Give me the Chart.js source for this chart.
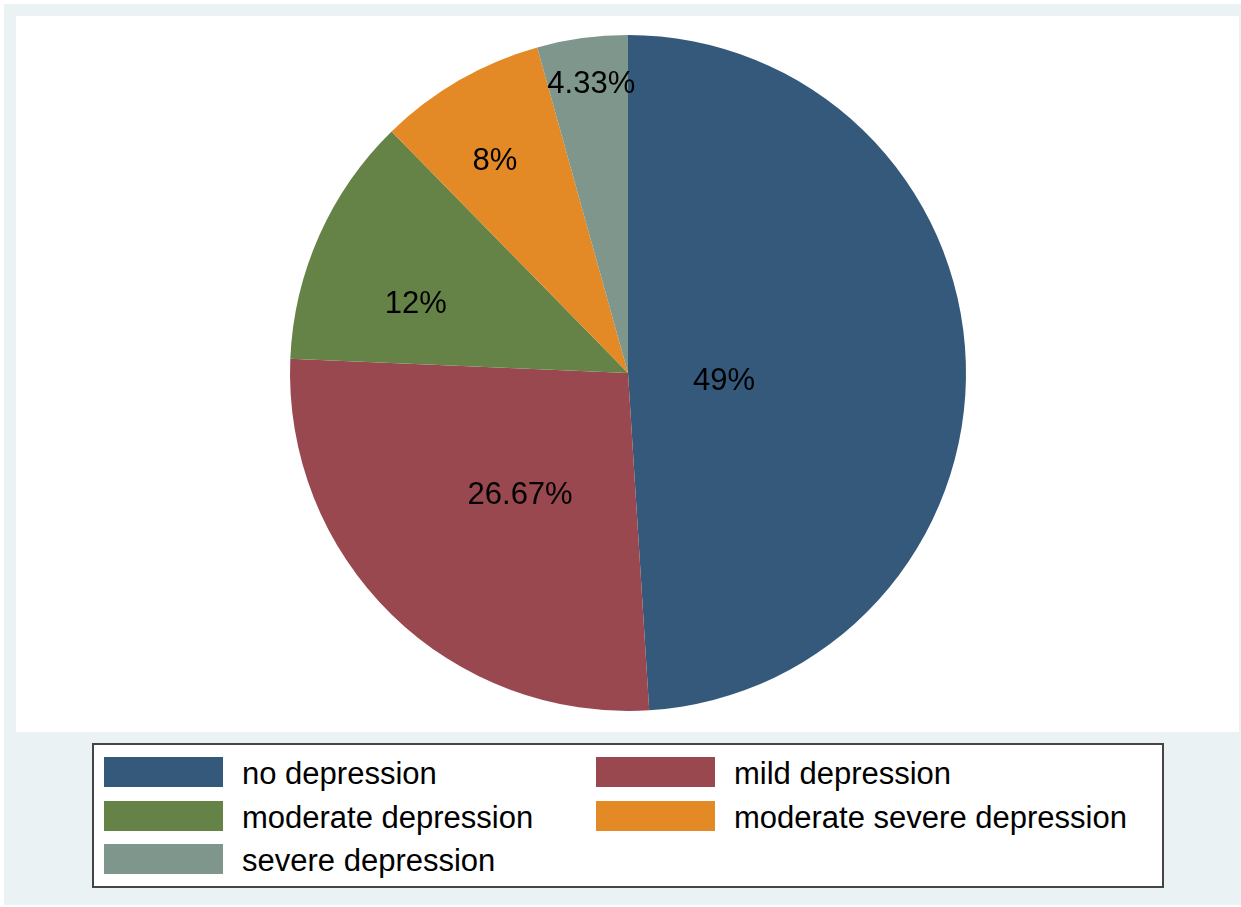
<!DOCTYPE html>
<html>
<head>
<meta charset="utf-8">
<title>Depression severity</title>
<script src="https://cdn.jsdelivr.net/npm/chart.js@4.4.1/dist/chart.umd.min.js"></script>
<style>
  html, body { margin: 0; padding: 0; background: #ffffff; }
  body { width: 1241px; height: 907px; position: relative; overflow: hidden;
         font-family: "Liberation Sans", Arial, Helvetica, sans-serif; }
  #frame { position: absolute; left: 4px; top: 4px; width: 1237px; height: 901px; background: #EAF2F3; }
  #plot  { position: absolute; left: 16px; top: 16px; width: 1223px; height: 716px; background: #ffffff; }
  #chart { position: absolute; left: 0; top: 0; }
  #legend { position: absolute; left: 92px; top: 743px; width: 1068px; height: 141px;
            background: #ffffff; border: 2px solid #454545; }
  .item { position: absolute; height: 30px; }
  .swatch { position: absolute; left: 0; top: 0; width: 119px; height: 30px; }
  .text { position: absolute; left: 138px; top: 2px; font-size: 31px; color: #000;
          white-space: nowrap; line-height: 30px; }
</style>
</head>
<body>
<div id="frame"></div>
<div id="plot"></div>
<canvas id="chart" width="1241" height="907"></canvas>
<div id="legend"></div>
<script>
// Share of respondents in each depression category (percent)
const categories = ['no depression', 'mild depression', 'moderate depression',
                    'moderate severe depression', 'severe depression'];
const percentages = [49, 26.67, 12, 8, 4.33];

// Slice fills
const sliceColors = ['#35597B', '#9A4850', '#658347', '#E38925', '#7E968C'];

// Where each percentage label sits inside its slice:
// fraction of the radius, and a small turn (degrees) off the slice's mid-angle
const labelRadius = [0.285, 0.477, 0.662, 0.746, 0.868];
const labelTurn = [5.4, -2.4, -5.5, -1.9, 0.6];

const sliceLabels = {
  id: 'sliceLabels',
  afterDatasetsDraw(chart) {
    const ctx = chart.ctx;
    const meta = chart.getDatasetMeta(0);
    const size = 31;
    ctx.save();
    ctx.font = size + 'px "Liberation Sans", Arial, sans-serif';
    ctx.fillStyle = '#000000';
    ctx.textAlign = 'center';
    ctx.textBaseline = 'alphabetic';
    meta.data.forEach((arc, i) => {
      const p = arc.getProps(['x', 'y', 'startAngle', 'endAngle', 'outerRadius'], true);
      const mid = (p.startAngle + p.endAngle) / 2 + labelTurn[i] * Math.PI / 180;
      const r = p.outerRadius * labelRadius[i];
      const x = p.x + Math.cos(mid) * r;
      const y = p.y + Math.sin(mid) * r;
      ctx.fillText(percentages[i] + '%', x, y + size * 0.358);
    });
    ctx.restore();
  }
};

new Chart(document.getElementById('chart'), {
  type: 'pie',
  data: {
    labels: categories,
    datasets: [{
      data: percentages,
      backgroundColor: sliceColors,
      borderWidth: 0
    }]
  },
  options: {
    responsive: false,
    animation: false,
    layout: { padding: { left: 290, right: 275, top: 35, bottom: 196 } },
    plugins: {
      legend: { display: false },
      tooltip: { enabled: false },
      title: { display: false }
    }
  },
  plugins: [sliceLabels]
});

// Legend: two columns, filled row by row
const legend = document.getElementById('legend');
const colX = [10, 502];
const rowY = [12, 56, 99];
categories.forEach((name, i) => {
  const item = document.createElement('div');
  item.className = 'item';
  item.style.left = colX[i % 2] + 'px';
  item.style.top = rowY[Math.floor(i / 2)] + 'px';
  const sw = document.createElement('div');
  sw.className = 'swatch';
  sw.style.background = sliceColors[i];
  const tx = document.createElement('div');
  tx.className = 'text';
  tx.textContent = name;
  item.appendChild(sw);
  item.appendChild(tx);
  legend.appendChild(item);
});
</script>
</body>
</html>
